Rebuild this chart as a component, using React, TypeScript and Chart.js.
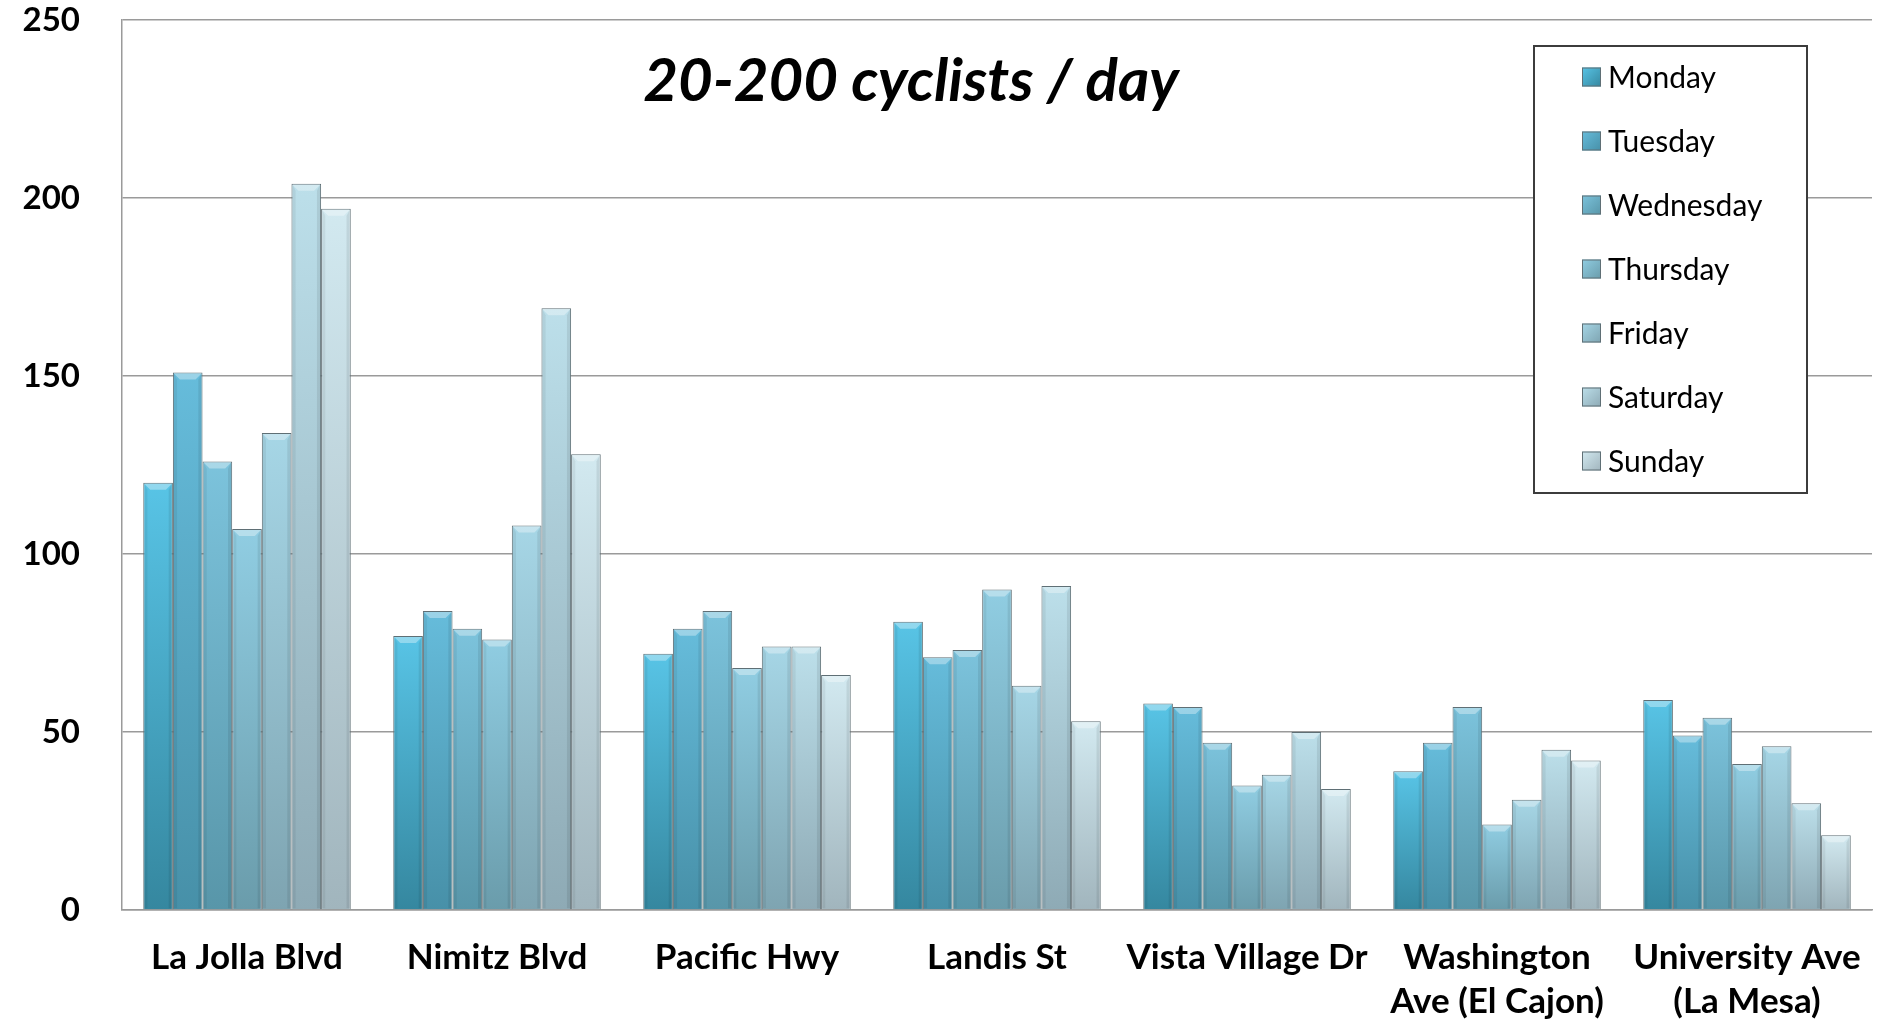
import React, { useEffect, useRef } from "react";
import { Chart, registerables } from "chart.js";

Chart.register(...registerables);

const categories: (string | string[])[] = [
  "La Jolla Blvd",
  "Nimitz Blvd",
  "Pacific Hwy",
  "Landis St",
  "Vista Village Dr",
  ["Washington", "Ave (El Cajon)"],
  ["University Ave", "(La Mesa)"],
];

const dayNames = ["Monday", "Tuesday", "Wednesday", "Thursday", "Friday", "Saturday", "Sunday"];

const monday = [120, 77, 72, 81, 58, 39, 59];
const tuesday = [151, 84, 79, 71, 57, 47, 49];
const wednesday = [126, 79, 84, 73, 47, 57, 54];
const thursday = [107, 76, 68, 90, 35, 24, 41];
const friday = [134, 108, 74, 63, 38, 31, 46];
const saturday = [204, 169, 74, 91, 50, 45, 30];
const sunday = [197, 128, 66, 53, 34, 42, 21];

const yTicks = [0, 50, 100, 150, 200, 250];
const titleText = "20-200 cyclists / day";

const topColors = ["#58c4e6", "#66bcdb", "#7cc3dc", "#90cde2", "#a6d6e6", "#bcdfea", "#d2e9f0"];
const bottomColors = ["#35879f", "#4790a8", "#5896a9", "#6a9cab", "#7ea4b1", "#8eaab5", "#a1b5bd"];

const seriesValues = [monday, tuesday, wednesday, thursday, friday, saturday, sunday];

const FONT = "Lato, 'Open Sans', sans-serif";

const bevelPlugin = {
  id: "bevel",
  afterDatasetsDraw(chart: any) {
    const ctx = chart.ctx;
    chart.data.datasets.forEach((_: any, di: number) => {
      const meta = chart.getDatasetMeta(di);
      meta.data.forEach((bar: any) => {
        const w = bar.width;
        const left = bar.x - w / 2;
        const right = bar.x + w / 2;
        const top = bar.y;
        const bottom = bar.base;
        const b = Math.min(7, (bottom - top) / 3);
        ctx.save();
        ctx.beginPath();
        ctx.moveTo(left + 1, top + 1);
        ctx.lineTo(right - 1, top + 1);
        ctx.lineTo(right - b, top + b);
        ctx.lineTo(left + b, top + b);
        ctx.closePath();
        ctx.fillStyle = "rgba(255,255,255,0.35)";
        ctx.fill();
        ctx.beginPath();
        ctx.moveTo(left + 1, top + 1);
        ctx.lineTo(left + b * 0.6, top + b);
        ctx.lineTo(left + b * 0.6, bottom - 1);
        ctx.lineTo(left + 1, bottom - 1);
        ctx.closePath();
        ctx.fillStyle = "rgba(0,0,0,0.06)";
        ctx.fill();
        ctx.beginPath();
        ctx.moveTo(right - 1, top + 1);
        ctx.lineTo(right - b * 0.6, top + b);
        ctx.lineTo(right - b * 0.6, bottom - 1);
        ctx.lineTo(right - 1, bottom - 1);
        ctx.closePath();
        ctx.fillStyle = "rgba(0,0,0,0.08)";
        ctx.fill();
        ctx.restore();
      });
    });
  },
};

const overlayPlugin = {
  id: "overlay",
  afterDraw(chart: any) {
    const ctx = chart.ctx;
    ctx.save();
    ctx.fillStyle = "#000";
    ctx.font = `italic bold 60px ${FONT}`;
    ctx.textAlign = "center";
    ctx.textBaseline = "middle";
    ctx.fillText(titleText, 911, 82);

    const bx = 1534, by = 46, bw = 273, bh = 447;
    ctx.fillStyle = "#ffffff";
    ctx.fillRect(bx, by, bw, bh);
    ctx.strokeStyle = "#3c3c3c";
    ctx.lineWidth = 2;
    ctx.strokeRect(bx, by, bw, bh);

    dayNames.forEach((name, i) => {
      const cy = 77 + i * 64;
      const sx = 1582, s = 19, sy = cy - s / 2;
      const g = ctx.createLinearGradient(sx, sy, sx + s, sy + s);
      g.addColorStop(0, topColors[i]);
      g.addColorStop(1, bottomColors[i]);
      ctx.fillStyle = g;
      ctx.fillRect(sx, sy, s, s);
      ctx.strokeStyle = "#5f6f75";
      ctx.lineWidth = 1;
      ctx.strokeRect(sx + 0.5, sy + 0.5, s - 1, s - 1);
      ctx.fillStyle = "#000";
      ctx.font = `30px ${FONT}`;
      ctx.textAlign = "left";
      ctx.textBaseline = "middle";
      ctx.fillText(name, 1608, cy + 1);
    });
    ctx.restore();
  },
};

export default function App() {
  const ref = useRef<HTMLCanvasElement>(null);

  useEffect(() => {
    if (!ref.current) return;
    const datasets = dayNames.map((name, i) => ({
      label: name,
      data: seriesValues[i],
      backgroundColor: (c: any) => {
        const chart = c.chart;
        const ys = chart.scales && chart.scales.y;
        if (!ys || c.raw === undefined) return topColors[i];
        const yTop = ys.getPixelForValue(c.raw);
        const yBot = ys.getPixelForValue(0);
        if (!isFinite(yTop) || !isFinite(yBot) || yBot - yTop < 1) return topColors[i];
        const g = chart.ctx.createLinearGradient(0, yTop, 0, yBot);
        g.addColorStop(0, topColors[i]);
        g.addColorStop(1, bottomColors[i]);
        return g;
      },
      borderColor: "#5f6f75",
      borderWidth: 1,
      categoryPercentage: 0.83,
      barPercentage: 1.0,
    }));

    const chart = new Chart(ref.current, {
      type: "bar",
      data: { labels: categories as any, datasets },
      plugins: [bevelPlugin, overlayPlugin],
      options: {
        animation: false,
        responsive: true,
        maintainAspectRatio: false,
        layout: { padding: { left: 0, top: 20, right: 6, bottom: 0 } },
        plugins: {
          legend: { display: false },
          tooltip: { enabled: false },
          title: { display: false },
        },
        scales: {
          x: {
            grid: { display: false, drawTicks: false },
            border: { display: true, color: "#9a9a9a", width: 1.5 },
            ticks: {
              color: "#000",
              padding: 26,
              maxRotation: 0,
              autoSkip: false,
              font: { family: FONT, size: 35, weight: "bold", lineHeight: 1.26 },
            },
            afterFit: (s: any) => {
              s.height = 113;
              s.paddingLeft = 0;
              s.paddingRight = 0;
            },
          },
          y: {
            min: 0,
            max: 250,
            afterBuildTicks: (s: any) => {
              s.ticks = yTicks.map((v) => ({ value: v }));
            },
            grid: { color: "#9a9a9a", lineWidth: 1.5, drawTicks: false },
            border: { display: true, color: "#9a9a9a", width: 1.5 },
            ticks: {
              color: "#000",
              padding: 42,
              font: { family: FONT, size: 33, weight: "bold" },
            },
            afterFit: (s: any) => {
              s.width = 122;
              s.paddingTop = 0;
              s.paddingBottom = 0;
            },
          },
        },
      },
    });
    return () => chart.destroy();
  }, []);

  return (
    <div style={{ position: "absolute", left: 0, top: 0, width: 1878, height: 1023, background: "#fff" }}>
      <canvas ref={ref} />
    </div>
  );
}
